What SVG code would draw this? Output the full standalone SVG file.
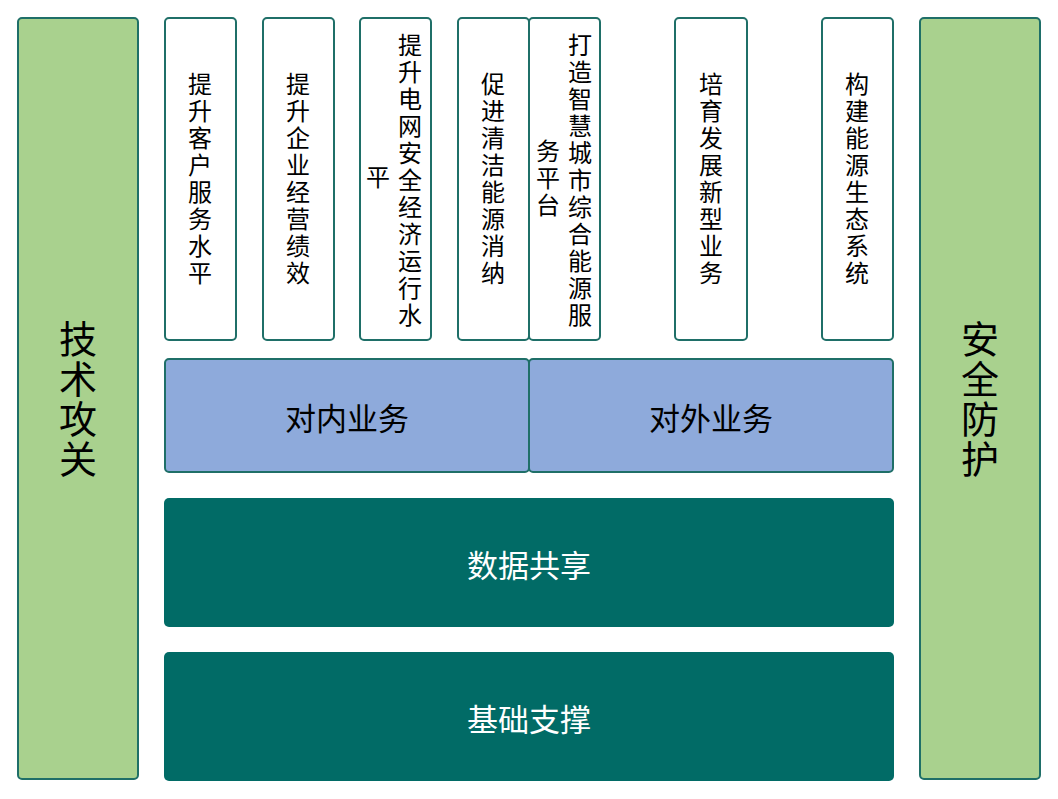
<svg xmlns="http://www.w3.org/2000/svg" width="1058" height="799" viewBox="0 0 1058 799">
<style>
.side{fill:#a9d18e;stroke:#1f6f68;stroke-width:2}
.top{fill:#fff;stroke:#1f6f68;stroke-width:2}
.blue{fill:#8eaadb;stroke:#1f6f68;stroke-width:2}
.dark{fill:#016b66;stroke:none}
text{font-family:"Noto Sans CJK SC",sans-serif}
.v{writing-mode:tb;font-size:24px;fill:#000;letter-spacing:3px}
.vs{writing-mode:tb;font-size:38px;fill:#000;letter-spacing:2px}
.h{font-size:31px;text-anchor:middle;dominant-baseline:central}
</style>
<rect width="1058" height="799" fill="#fff"/>
<g id="left"><rect class="side" x="18" y="18" width="120" height="761" rx="4"/><text class="vs" x="78" y="320">技术攻关</text></g>
<g id="right"><rect class="side" x="920" y="18" width="120" height="761" rx="4"/><text class="vs" x="980" y="320">安全防护</text></g>
<g id="t1"><rect class="top" x="165" y="18" width="71" height="322" rx="4"/><text class="v" x="200" y="72">提升客户服务水平</text></g>
<g id="t2"><rect class="top" x="263" y="18" width="71" height="322" rx="4"/><text class="v" x="298" y="72">提升企业经营绩效</text></g>
<g id="t3"><rect class="top" x="360" y="18" width="71" height="322" rx="4"/><text class="v" x="410" y="33">提升电网安全经济运行水</text><text class="v" x="378" y="165">平</text></g>
<g id="t4"><rect class="top" x="458" y="18" width="71" height="322" rx="4"/><text class="v" x="493" y="72">促进清洁能源消纳</text></g>
<g id="t5"><rect class="top" x="529" y="18" width="71" height="322" rx="4"/><text class="v" x="580" y="33">打造智慧城市综合能源服</text><text class="v" x="548" y="139">务平台</text></g>
<g id="t6"><rect class="top" x="675" y="18" width="72" height="322" rx="4"/><text class="v" x="711" y="72">培育发展新型业务</text></g>
<g id="t7"><rect class="top" x="822" y="18" width="71" height="322" rx="4"/><text class="v" x="857" y="72">构建能源生态系统</text></g>
<g id="b1"><rect class="blue" x="165" y="359" width="364" height="113" rx="4"/><text class="h" x="347" y="416">对内业务</text></g>
<g id="b2"><rect class="blue" x="529" y="359" width="364" height="113" rx="4"/><text class="h" x="711" y="416">对外业务</text></g>
<g id="d1"><rect class="dark" x="164" y="498" width="730" height="129" rx="5"/><text class="h" x="529" y="563" fill="#fff">数据共享</text></g>
<g id="d2"><rect class="dark" x="164" y="652" width="730" height="129" rx="5"/><text class="h" x="529" y="717" fill="#fff">基础支撑</text></g>
<g id="connectors"></g>
</svg>
